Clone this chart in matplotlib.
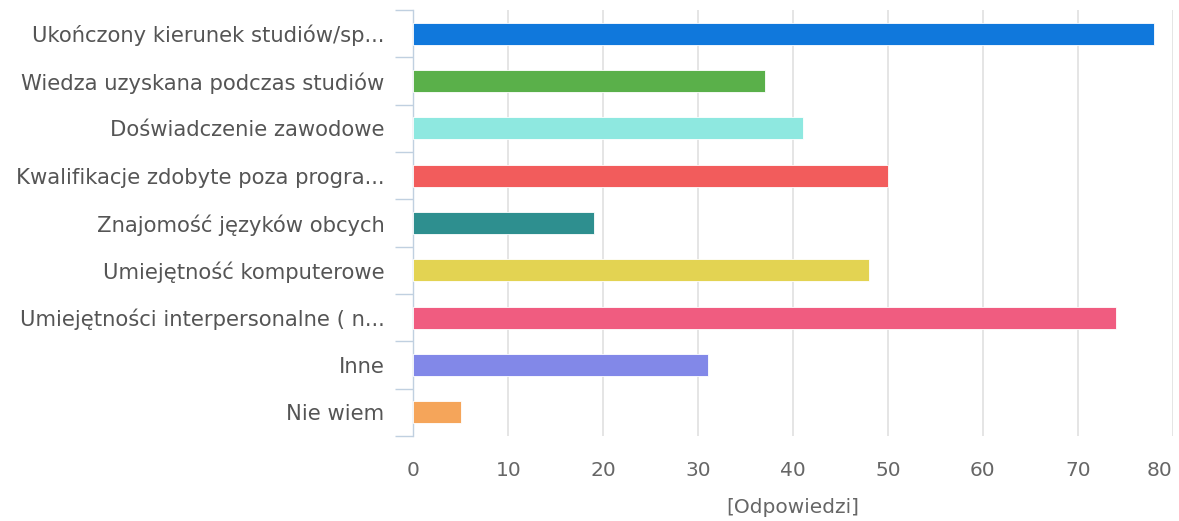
import numpy as np
import matplotlib
matplotlib.use('Agg')
import matplotlib.pyplot as plt

categories = ['Ukończony kierunek studiów/sp...', 'Wiedza uzyskana podczas studiów',
              'Doświadczenie zawodowe', 'Kwalifikacje zdobyte poza progra...',
              'Znajomość języków obcych', 'Umiejętność komputerowe',
              'Umiejętności interpersonalne ( n...', 'Inne', 'Nie wiem']
values = [78, 37, 41, 50, 19, 48, 74, 31, 5]
colors = ['#1078dc', '#5ab04a', '#8ee8e0', '#f25c5c', '#2e8f8f',
          '#e3d352', '#f05c80', '#8288e8', '#f5a55a']
xticks = [0, 10, 20, 30, 40, 50, 60, 70, 80]

plt.rcParams['font.family'] = ['DejaVu Sans']
fig = plt.figure(figsize=(11.79, 5.21), dpi=100)
ax = fig.add_axes([0.3507, 0.1631, 0.6439, 0.8177])

y = np.arange(len(categories))
ax.barh(y, values, height=0.47, color=colors, edgecolor='white', linewidth=0.6, zorder=3)

ax.set_xlim(0, 80)
ax.set_ylim(len(categories) - 0.5, -0.5)
ax.set_xticks(xticks)
ax.set_xticklabels([str(t) for t in xticks])
ax.set_yticks(y)
ax.set_yticklabels(categories)
ax.set_yticks(np.arange(-0.5, len(categories)), minor=True)

ax.grid(axis='x', color='#e0e0e0', linewidth=1.2, zorder=0)
for s in ['top', 'right', 'bottom']:
    ax.spines[s].set_visible(False)
ax.spines['left'].set_color('#c0d0e0')
ax.spines['left'].set_linewidth(1.0)

ax.tick_params(axis='y', which='major', length=0, pad=21, labelsize=15.2, labelcolor='#555555')
ax.tick_params(axis='y', which='minor', length=13, color='#c0d0e0', width=1.0)
ax.tick_params(axis='x', length=0, pad=18, labelsize=14.5, labelcolor='#666666')
ax.get_xticklabels()[-1].set_horizontalalignment('right')
ax.get_xticklabels()[-1].set_x(80.0)

ax.set_xlabel('[Odpowiedzi]', fontsize=14.5, color='#666666', labelpad=13)

fig.savefig('out.png', dpi=100)
